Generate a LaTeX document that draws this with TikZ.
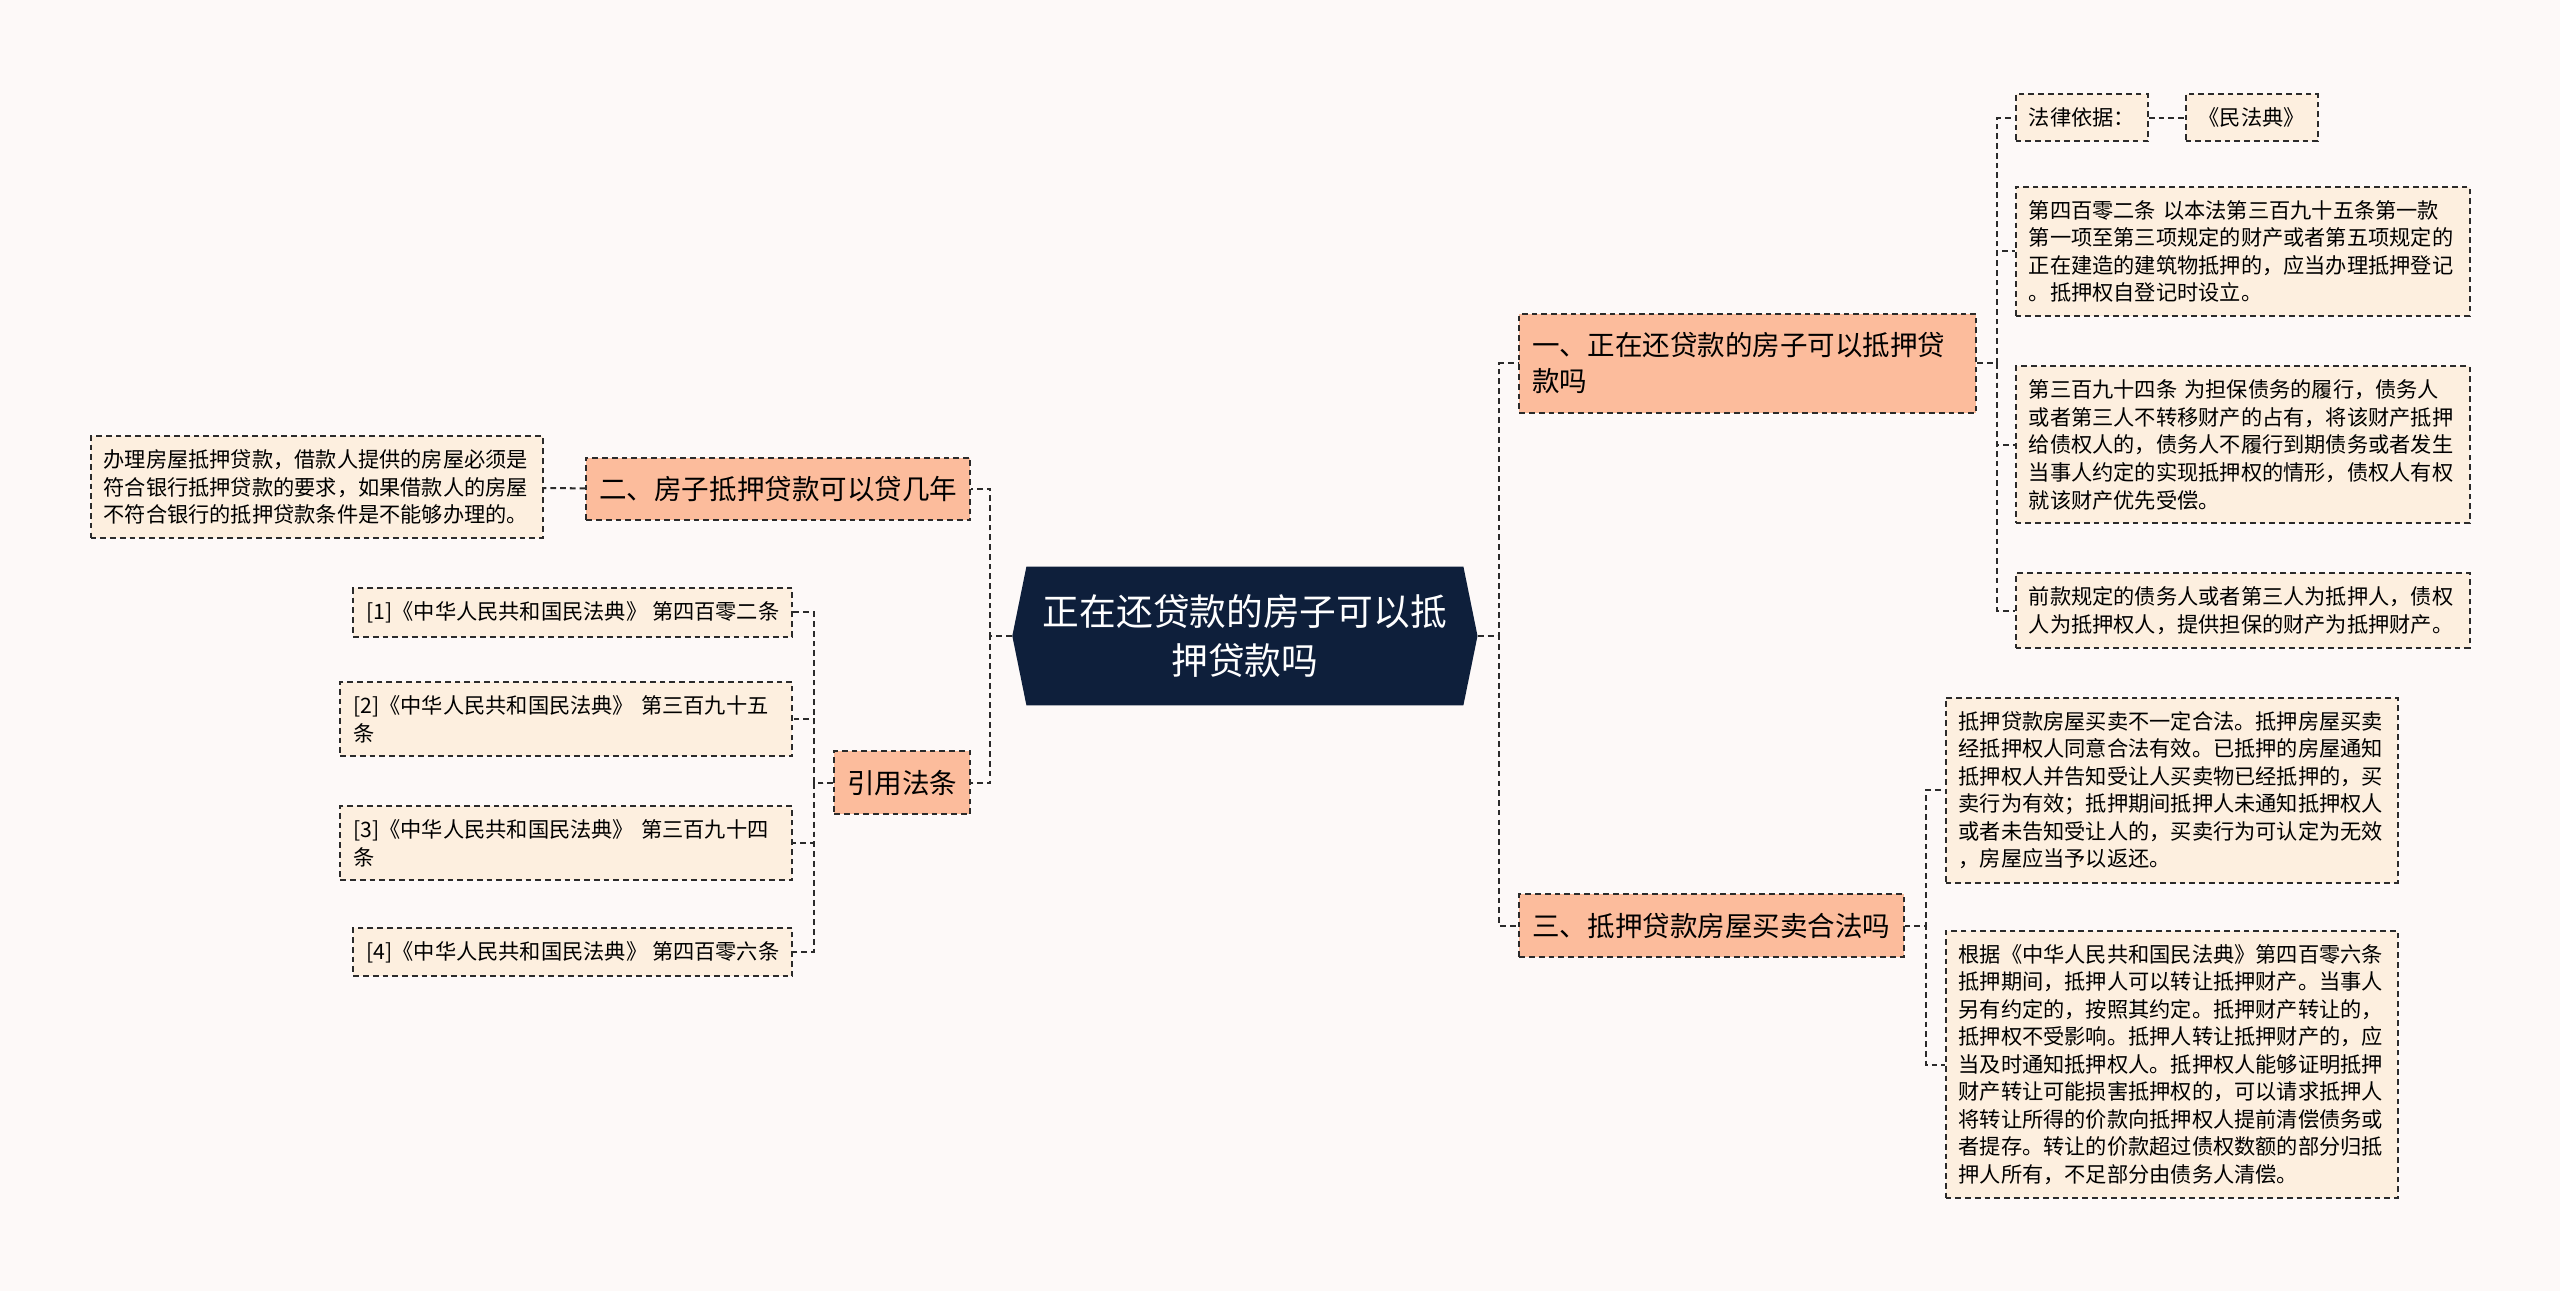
\documentclass[tikz,border=0pt]{standalone}
\usepackage{fontspec}
\setmainfont{Noto Sans CJK SC}
\usetikzlibrary{shapes.symbols}

\definecolor{rootblue}{HTML}{0E1F3B}
\definecolor{headfill}{HTML}{FCBC9C}
\definecolor{leaffill}{HTML}{FDEFDF}
\definecolor{paper}{HTML}{FDF9F8}
\definecolor{edgegray}{HTML}{2B2B2B}

\begin{document}
\begin{tikzpicture}[x=0.02cm, y=-0.02cm,
    box/.style={draw=edgegray, line width=0.7pt, dash pattern=on 2pt off 1.4pt, align=left},
    head/.style={box, fill=headfill, inner xsep=0.16cm, inner ysep=6.5pt, font=\fontsize{9.6}{12.5}\selectfont},
    leaf/.style={box, fill=leaffill, inner xsep=0.16cm, inner ysep=4.7pt, font=\fontsize{7.4}{9.6}\selectfont},
    link/.style={draw=edgegray, line width=0.7pt, dash pattern=on 2pt off 1.4pt},
    root/.style={signal, signal to=west and east, signal pointer angle=157, fill=rootblue, text=white,
        align=center, minimum width=5.7cm, minimum height=1.7cm, font=\fontsize{12.8}{17}\selectfont}]
        \fill[paper] (0,0) rectangle (1568,791);
        \useasboundingbox (0,0) rectangle (1568,791);
        % centre
        \node[root] (root) at (762.5,389.5) {正在还贷款的房子可以抵\\押贷款吗};
        % right side
        \node[head, anchor=west, text width=5.28cm] (q1) at (930,222.5) {一、正在还贷款的房子可以抵押贷\\款吗};
        \node[head, anchor=west] (q3) at (930,567) {三、抵押贷款房屋买卖合法吗};
        \node[leaf, anchor=west] (basis) at (1234,72) {法律依据：};
        \node[leaf, anchor=west] (code) at (1338,72) {《民法典》};
        \node[leaf, anchor=west, text width=5.24cm] (art402) at (1234,154) {第四百零二条 以本法第三百九十五条第一款\\第一项至第三项规定的财产或者第五项规定的\\正在建造的建筑物抵押的，应当办理抵押登记\\。抵押权自登记时设立。};
        \node[leaf, anchor=west, text width=5.24cm] (art394) at (1234,272.5) {第三百九十四条 为担保债务的履行，债务人\\或者第三人不转移财产的占有，将该财产抵押\\给债权人的，债务人不履行到期债务或者发生\\当事人约定的实现抵押权的情形，债权人有权\\就该财产优先受偿。};
        \node[leaf, anchor=west, text width=5.24cm] (pledgor) at (1234,374) {前款规定的债务人或者第三人为抵押人，债权\\人为抵押权人，提供担保的财产为抵押财产。};
        \node[leaf, anchor=west, text width=5.22cm] (sale) at (1191,484) {抵押贷款房屋买卖不一定合法。抵押房屋买卖\\经抵押权人同意合法有效。已抵押的房屋通知\\抵押权人并告知受让人买卖物已经抵押的，买\\卖行为有效；抵押期间抵押人未通知抵押权人\\或者未告知受让人的，买卖行为可认定为无效\\，房屋应当予以返还。};
        \node[leaf, anchor=west, text width=5.22cm] (art406) at (1191,652) {根据《中华人民共和国民法典》第四百零六条\\抵押期间，抵押人可以转让抵押财产。当事人\\另有约定的，按照其约定。抵押财产转让的，\\抵押权不受影响。抵押人转让抵押财产的，应\\当及时通知抵押权人。抵押权人能够证明抵押\\财产转让可能损害抵押权的，可以请求抵押人\\将转让所得的价款向抵押权人提前清偿债务或\\者提存。转让的价款超过债权数额的部分归抵\\押人所有，不足部分由债务人清偿。};
        % left side
        \node[head, anchor=east] (q2) at (595,299.5) {二、房子抵押贷款可以贷几年};
        \node[leaf, anchor=east, text width=5.22cm] (years) at (333,298.5) {办理房屋抵押贷款，借款人提供的房屋必须是\\符合银行抵押贷款的要求，如果借款人的房屋\\不符合银行的抵押贷款条件是不能够办理的。};
        \node[head, anchor=east] (refs) at (595,479.5) {引用法条};
        \node[leaf, anchor=east] (ref1) at (486,375) {[1]《中华人民共和国民法典》 第四百零二条};
        \node[leaf, anchor=east, text width=5.22cm] (ref2) at (486,440.5) {[2]《中华人民共和国民法典》 第三百九十五\\条};
        \node[leaf, anchor=east, text width=5.22cm] (ref3) at (486,516.5) {[3]《中华人民共和国民法典》 第三百九十四\\条};
        \node[leaf, anchor=east] (ref4) at (486,583) {[4]《中华人民共和国民法典》 第四百零六条};
        % connectors
        \draw[link] (root.west) -- ++(-13,0) |- (q2.east);
        \draw[link] (root.west) -- ++(-13,0) |- (refs.east);
        \draw[link] (root.east) -- ++(13,0) |- (q1.west);
        \draw[link] (root.east) -- ++(13,0) |- (q3.west);
        \foreach \leafnode in {basis,art402,art394,pledgor}
            \draw[link] (q1.east) -- ++(12,0) |- (\leafnode.west);
        \draw[link] (basis) -- (code);
        \foreach \leafnode in {sale,art406}
            \draw[link] (q3.east) -- ++(13,0) |- (\leafnode.west);
        \draw[link] (q2) -- (years);
        \foreach \leafnode in {ref1,ref2,ref3,ref4}
            \draw[link] (refs.west) -- ++(-12,0) |- (\leafnode.east);
    \end{tikzpicture}
\end{document}
